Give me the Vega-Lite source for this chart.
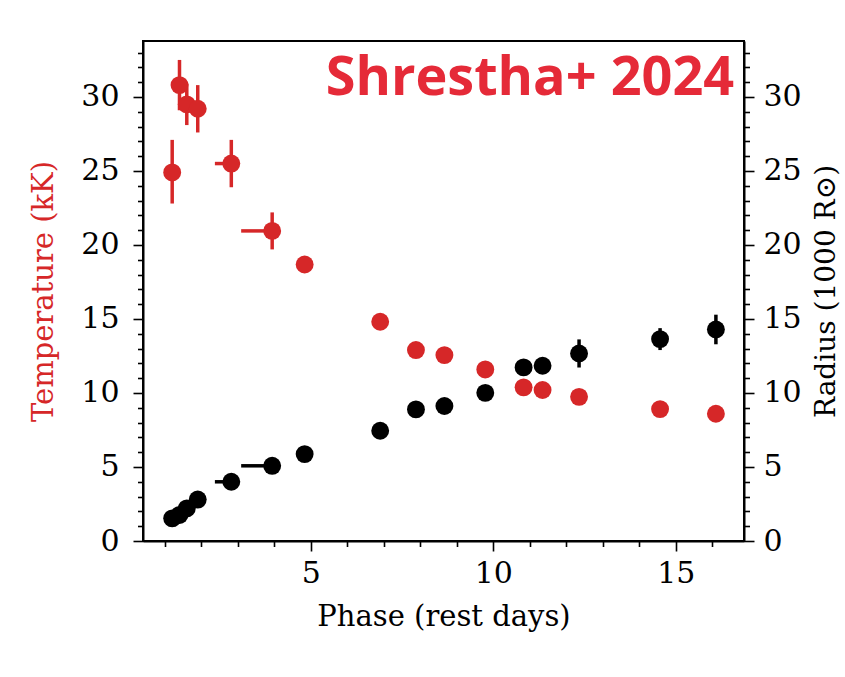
{
  "$schema": "https://vega.github.io/schema/vega-lite/v6.json",
  "autosize": "none",
  "width": 601,
  "height": 500,
  "padding": {"left": 143, "top": 41, "right": 101, "bottom": 136},
  "background": "white",
  "config": {
    "view": {"stroke": "black", "strokeWidth": 2},
    "axis": {
      "labelFont": "DejaVu Serif",
      "titleFont": "DejaVu Serif",
      "labelFontSize": 30,
      "titleFontSize": 29,
      "titleFontWeight": "normal",
      "labelColor": "black",
      "titleColor": "black",
      "domainColor": "black",
      "domainWidth": 2,
      "tickColor": "black",
      "tickWidth": 1.6,
      "grid": false
    }
  },
  "data": {
    "values": [
      {"phase": 1.20, "temp": 24.9, "tlo": 22.8, "thi": 27.1, "radius": 1.53},
      {"phase": 1.40, "temp": 30.8, "tlo": 29.1, "thi": 32.5, "radius": 1.76},
      {"phase": 1.60, "temp": 29.5, "tlo": 28.1, "thi": 30.9, "radius": 2.2},
      {"phase": 1.90, "temp": 29.2, "tlo": 27.6, "thi": 30.8, "radius": 2.8},
      {"phase": 2.82, "temp": 25.5, "tlo": 23.9, "thi": 27.1, "radius": 4.0, "xlo": 2.37},
      {"phase": 3.94, "temp": 20.95, "tlo": 19.7, "thi": 22.2, "radius": 5.08, "xlo": 3.09},
      {"phase": 4.83, "temp": 18.68, "radius": 5.87},
      {"phase": 6.90, "temp": 14.81, "radius": 7.45},
      {"phase": 7.88, "temp": 12.9, "radius": 8.89},
      {"phase": 8.66, "temp": 12.56, "radius": 9.12},
      {"phase": 9.78, "temp": 11.59, "radius": 10.01},
      {"phase": 10.83, "temp": 10.38, "radius": 11.73},
      {"phase": 11.35, "temp": 10.2, "radius": 11.84},
      {"phase": 12.35, "temp": 9.74, "radius": 12.67, "rlo": 11.72, "rhi": 13.62},
      {"phase": 14.57, "temp": 8.91, "radius": 13.64, "rlo": 12.9, "rhi": 14.38},
      {"phase": 16.10, "temp": 8.6, "radius": 14.29, "rlo": 13.29, "rhi": 15.29}
    ]
  },
  "resolve": {"scale": {"y": "independent"}},
  "layer": [
    {
      "layer": [
        {
          "transform": [{"filter": "datum.tlo != null"}],
          "mark": {"type": "rule", "color": "#d62728", "strokeWidth": 3.5},
          "encoding": {
            "x": {"field": "phase", "type": "quantitative", "scale": {"domain": [0.4, 16.87], "nice": false, "zero": false},
              "axis": {"title": "Phase (rest days)", "format": "d", "tickCount": 40, "values": [1,2,3,4,5,6,7,8,9,10,11,12,13,14,15,16], "labelExpr": "datum.value % 5 === 0 ? datum.label : ''", "tickSize": {"condition": {"test": "datum.value % 5 === 0", "value": 10}, "value": 5.5}, "labelPadding": 7, "titlePadding": 14, "labelFlush": false, "labelOverlap": false}},
            "y": {"field": "tlo", "type": "quantitative", "scale": {"domain": [0, 33.78], "nice": false},
              "axis": {"title": "Temperature (kK)", "titleColor": "#d62728", "orient": "left", "format": "d", "tickCount": 60, "values": [0,1,2,3,4,5,6,7,8,9,10,11,12,13,14,15,16,17,18,19,20,21,22,23,24,25,26,27,28,29,30,31,32,33], "labelExpr": "datum.value % 5 === 0 ? datum.label : ''", "tickSize": {"condition": {"test": "datum.value % 5 === 0", "value": 10}, "value": 5.5}, "labelPadding": 14, "titlePadding": 22, "labelFlush": false, "labelOverlap": false}},
            "y2": {"field": "thi"}
          }
        },
        {
          "transform": [{"filter": "datum.xlo != null"}],
          "mark": {"type": "rule", "color": "#d62728", "strokeWidth": 3.5},
          "encoding": {
            "x": {"field": "xlo", "type": "quantitative"},
            "x2": {"field": "phase"},
            "y": {"field": "temp", "type": "quantitative"}
          }
        },
        {
          "mark": {"type": "circle", "color": "#d62728", "opacity": 1, "size": 320},
          "encoding": {
            "x": {"field": "phase", "type": "quantitative"},
            "y": {"field": "temp", "type": "quantitative"}
          }
        },
        {
          "data": {"values": [{"label": "Shrestha+ 2024"}]},
          "mark": {"type": "text", "color": "#e52a38", "font": "Open Sans", "fontWeight": "bold", "fontSize": 54, "align": "right", "baseline": "alphabetic"},
          "encoding": {
            "text": {"field": "label"},
            "x": {"datum": 16.6, "type": "quantitative"},
            "y": {"datum": 30.1, "type": "quantitative"}
          }
        }
      ]
    },
    {
      "layer": [
        {
          "transform": [{"filter": "datum.rlo != null"}],
          "mark": {"type": "rule", "color": "black", "strokeWidth": 3.5},
          "encoding": {
            "x": {"field": "phase", "type": "quantitative"},
            "y": {"field": "rlo", "type": "quantitative", "scale": {"domain": [0, 33.78], "nice": false},
              "axis": {"title": "Radius (1000 R⊙)", "orient": "right", "titleAngle": -90, "titleBaseline": "top", "titleFontSize": 28, "format": "d", "tickCount": 60, "values": [0,1,2,3,4,5,6,7,8,9,10,11,12,13,14,15,16,17,18,19,20,21,22,23,24,25,26,27,28,29,30,31,32,33], "labelExpr": "datum.value % 5 === 0 ? datum.label : ''", "tickSize": {"condition": {"test": "datum.value % 5 === 0", "value": 10}, "value": 5.5}, "labelPadding": 9, "titlePadding": 11, "labelFlush": false, "labelOverlap": false}},
            "y2": {"field": "rhi"}
          }
        },
        {
          "transform": [{"filter": "datum.xlo != null"}],
          "mark": {"type": "rule", "color": "black", "strokeWidth": 3.5},
          "encoding": {
            "x": {"field": "xlo", "type": "quantitative"},
            "x2": {"field": "phase"},
            "y": {"field": "radius", "type": "quantitative"}
          }
        },
        {
          "mark": {"type": "circle", "color": "black", "opacity": 1, "size": 320},
          "encoding": {
            "x": {"field": "phase", "type": "quantitative"},
            "y": {"field": "radius", "type": "quantitative"}
          }
        }
      ]
    }
  ]
}
